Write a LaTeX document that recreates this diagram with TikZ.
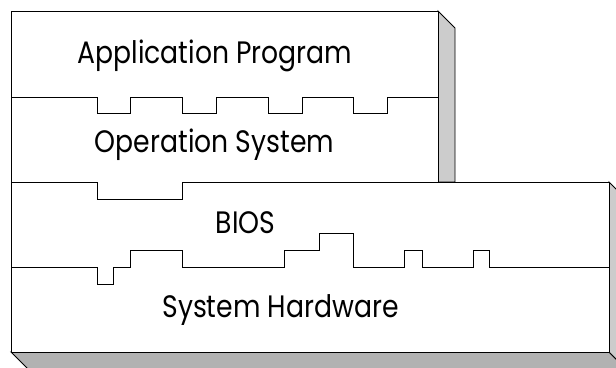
\documentclass[tikz,border=0pt]{standalone}
\usepackage{fontspec}
\newfontfamily\layerfont{Poppins}[FakeStretch=0.86]
\definecolor{sidegray}{gray}{0.8}
\definecolor{basegray}{gray}{0.7}
\begin{document}
\begin{tikzpicture}[x=1pt,y=-1pt,line width=0.9pt,
    shade/.style={draw=black, fill=sidegray},
    layertext/.style={font=\layerfont\fontsize{31}{31}\selectfont, inner sep=0pt, anchor=base}]
    \useasboundingbox (0,0) rectangle (616,367);
    \clip (0,0) rectangle (616,367);

    \def\D{17}

    % lower box: hardware and bios
    \fill[basegray, draw=black] (11,352) -- (609,352) -- ++(\D,\D) -- (11+\D,352+\D) -- cycle;
    \draw[shade] (609,182) -- ++(\D,\D) -- (609+\D,352+\D) -- (609,352) -- cycle;
    \fill[white] (11,182) rectangle (609,352);
    \draw (11,182) -- (11,352) -- (609,352) -- (609,182);

    % upper box: application and operation system
    \draw[shade] (438,11) -- ++(\D,\D) -- (438+\D,182) -- (438,182) -- cycle;
    \fill[white] (11,11) rectangle (438,182);
    \draw (11,182) -- (11,11) -- (438,11) -- (438,182);

    % application / operation system interface
    \draw (11,97) -- (97,97) -- (97,113) -- (130,113) -- (130,97)
        -- (182,97) -- (182,113) -- (216,113) -- (216,97)
        -- (268,97) -- (268,113) -- (302,113) -- (302,97)
        -- (353,97) -- (353,113) -- (387,113) -- (387,97) -- (438,97);

    % operation system / bios interface
    \draw (11,182) -- (97,182) -- (97,199) -- (182,199) -- (182,182) -- (609,182);

    % bios / hardware interface
    \draw (11,267) -- (97,267) -- (97,284) -- (113,284) -- (113,267)
        -- (130,267) -- (130,250) -- (182,250) -- (182,267)
        -- (284,267) -- (284,250) -- (319,250) -- (319,233) -- (353,233) -- (353,267)
        -- (404,267) -- (404,250) -- (422,250) -- (422,267)
        -- (473,267) -- (473,250) -- (489,250) -- (489,267) -- (609,267);

    \node (app) [layertext] at (215,63) {Application Program};
    \node (os) [layertext] at (214.5,152) {Operation System};
    \node (bios) [layertext] at (245.5,233) {BIOS};
    \node (hw) [layertext] at (280.5,317) {System Hardware};
\end{tikzpicture}
\end{document}
